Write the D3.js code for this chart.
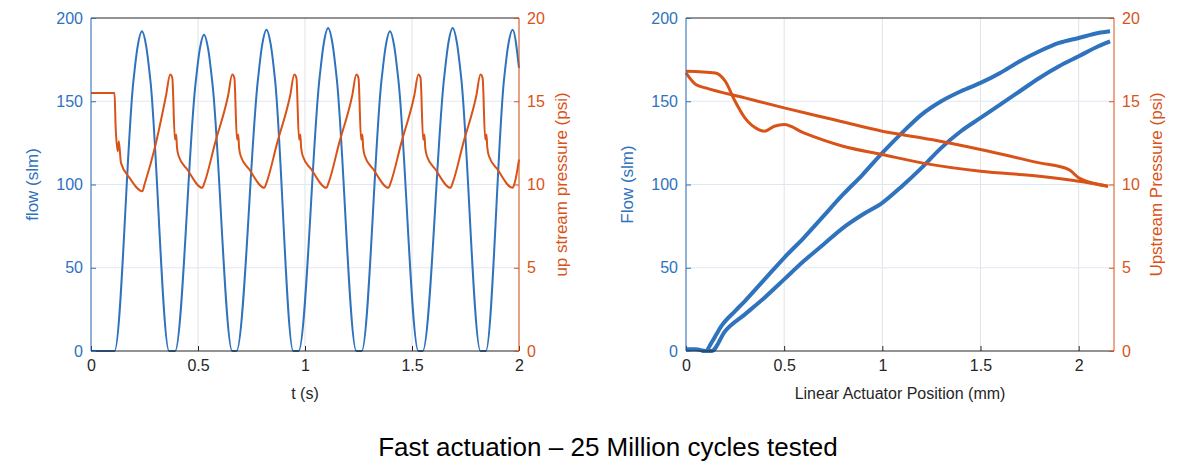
<!DOCTYPE html>
<html><head><meta charset="utf-8">
<script src="https://cdn.jsdelivr.net/npm/d3@7"></script>
<style>body{margin:0;background:#fff}text{font-family:"Liberation Sans",Arial,sans-serif}</style>
</head><body>
<script>
// left panel: flow vs time
const flowT = [0,0.11,0.198,0.218,0.238,0.258,0.278,0.365,0.393,0.488,0.508,0.528,0.548,0.568,0.66,0.68,0.78,0.80,0.82,0.84,0.86,0.945,0.97,1.068,1.088,1.108,1.128,1.148,1.24,1.265,1.357,1.377,1.397,1.417,1.437,1.53,1.55,1.65,1.67,1.69,1.71,1.73,1.82,1.845,1.93,1.95,1.97,2.0];
const flowV = [0,0,162,183,192,183,162,0,0,160,181,190,181,160,0,0,163,184,193,184,163,0,0,164,185,194,185,164,0,0,162,183,192,183,162,0,0,164,185,194,185,164,0,0,163,184,193,170];
// left panel: pressure vs time
const presT = [0,0.11,0.115,0.125,0.13,0.14,0.18,0.24,0.25,0.3,0.35,0.37,0.38,0.392,0.398,0.402,0.41,0.45,0.52,0.53,0.58,0.64,0.66,0.67,0.682,0.688,0.692,0.70,0.74,0.81,0.82,0.87,0.93,0.95,0.96,0.972,0.978,0.982,0.99,1.03,1.10,1.11,1.16,1.22,1.24,1.25,1.262,1.268,1.272,1.28,1.32,1.39,1.40,1.45,1.51,1.53,1.54,1.552,1.558,1.562,1.57,1.61,1.68,1.69,1.74,1.80,1.82,1.83,1.842,1.848,1.852,1.86,1.90,1.97,1.98,2.0];
const presV = [15.5,15.5,13.5,12.0,12.6,11.3,10.4,9.6,10.0,12.3,15.3,16.6,16.4,12.7,13.0,12.2,11.7,10.9,9.8,10.1,12.5,15.3,16.6,16.4,12.7,13.0,12.2,11.7,10.9,9.8,10.1,12.5,15.3,16.6,16.4,12.7,13.0,12.2,11.7,10.9,9.8,10.1,12.5,15.3,16.6,16.4,12.7,13.0,12.2,11.7,10.9,9.8,10.1,12.5,15.3,16.6,16.4,12.7,13.0,12.2,11.7,10.9,9.8,10.1,12.5,15.3,16.6,16.4,12.7,13.0,12.2,11.7,10.9,9.8,10.1,11.5];
// right panel: flow vs position (two branches)
const posUp = [0,0.05,0.1,0.13,0.18,0.25,0.3,0.4,0.5,0.6,0.7,0.8,0.9,1.0,1.1,1.2,1.3,1.4,1.5,1.6,1.7,1.8,1.9,2.0,2.1,2.16];
const flowUp = [1,1,0,5,15,24,30,43,56,68,81,94,106,119,131,142,150,156,161,167,174,180,185,188,191,192];
const posDn = [0.08,0.13,0.2,0.3,0.4,0.5,0.6,0.7,0.8,0.9,1.0,1.1,1.2,1.3,1.4,1.5,1.6,1.7,1.8,1.9,2.0,2.1,2.16];
const flowDn = [0,0,12,22,32,43,54,64,74,82,89,99,110,122,132,140,148,156,164,171,177,183,186];
// right panel: pressure vs position (two branches)
const posPa = [0,0.05,0.1,0.3,0.5,0.75,1.0,1.25,1.5,1.8,1.95,2.0,2.15];
const presPa = [16.7,16.0,15.8,15.2,14.6,13.9,13.2,12.7,12.1,11.3,10.9,10.4,9.9];
const posPb = [0,0.15,0.2,0.25,0.3,0.37,0.4,0.45,0.5,0.6,0.8,1.0,1.2,1.5,1.8,2.0,2.15];
const presPb = [16.8,16.7,16.2,15.0,14.0,13.3,13.2,13.5,13.6,13.1,12.3,11.8,11.3,10.8,10.5,10.2,9.9];

const BLUE = "#2f72bd", ORANGE = "#d95319";
const svg = d3.select("body").append("svg").attr("width",1190).attr("height",473);

function panel(x0, x1, xDom, xTicks, xLabel, yLabL, yLabR, blueSets, orangeSets) {
  const y0 = 18, y1 = 351;
  const x = d3.scaleLinear().domain(xDom).range([x0, x1]);
  const yl = d3.scaleLinear().domain([0,200]).range([y1, y0]);
  const yr = d3.scaleLinear().domain([0,20]).range([y1, y0]);
  const g = svg.append("g");
  // grid
  g.selectAll(".vg").data(xTicks).enter().append("line")
    .attr("x1",d=>x(d)).attr("x2",d=>x(d)).attr("y1",y0).attr("y2",y1)
    .attr("stroke","#e3e3e3");
  g.selectAll(".hg").data([50,100,150]).enter().append("line")
    .attr("x1",x0).attr("x2",x1).attr("y1",d=>yl(d)).attr("y2",d=>yl(d))
    .attr("stroke","#dde8f5");
  const line = (sx, sy) => d3.line().curve(d3.curveMonotoneX).x(d=>sx(d[0])).y(d=>sy(d[1]));
  blueSets.forEach(s => g.append("path").datum(d3.zip(s[0], s[1]))
    .attr("d", line(x, yl)).attr("fill","none").attr("stroke",BLUE).attr("stroke-width",s[2]||2));
  orangeSets.forEach(s => g.append("path").datum(d3.zip(s[0], s[1]))
    .attr("d", line(x, yr)).attr("fill","none").attr("stroke",ORANGE).attr("stroke-width",s[2]||2));
  // box and axes
  g.append("line").attr("x1",x0).attr("x2",x1).attr("y1",y0).attr("y2",y0).attr("stroke","#262626");
  const bx = g.append("g").attr("transform",`translate(0,${y1})`)
    .call(d3.axisBottom(x).tickValues(xTicks).tickSize(-5).tickPadding(9).tickFormat(d3.format("")));
  bx.selectAll("path,line").attr("stroke","#262626");
  bx.selectAll("text").attr("fill","#262626").style("font-size","16px");
  bx.select(".domain").attr("d",`M${x0},0H${x1}`);
  const al = g.append("g").attr("transform",`translate(${x0},0)`)
    .call(d3.axisLeft(yl).tickValues([0,50,100,150,200]).tickSize(-5).tickPadding(8));
  al.selectAll("path,line").attr("stroke",BLUE);
  al.selectAll("text").attr("fill",BLUE).style("font-size","16px");
  al.select(".domain").attr("d",`M0,${y0}V${y1}`);
  const ar = g.append("g").attr("transform",`translate(${x1},0)`)
    .call(d3.axisRight(yr).tickValues([0,5,10,15,20]).tickSize(-5).tickPadding(8));
  ar.selectAll("path,line").attr("stroke",ORANGE);
  ar.selectAll("text").attr("fill",ORANGE).style("font-size","16px");
  ar.select(".domain").attr("d",`M0,${y0}V${y1}`);
  g.append("text").attr("x",(x0+x1)/2).attr("y",399).attr("text-anchor","middle")
    .attr("fill","#262626").style("font-size","16px").text(xLabel);
  g.append("text").attr("transform",`translate(${x0-53},${(y0+y1)/2}) rotate(-90)`)
    .attr("text-anchor","middle").attr("fill",BLUE).style("font-size","17px").text(yLabL);
  g.append("text").attr("transform",`translate(${x1+48},${(y0+y1)/2}) rotate(-90)`)
    .attr("text-anchor","middle").attr("fill",ORANGE).style("font-size","17px").text(yLabR);
}

panel(91, 519, [0,2], [0,0.5,1,1.5,2], "t (s)", "flow (slm)", "up stream pressure (psi)",
  [[flowT, flowV]], [[presT, presV]]);
panel(686, 1114, [0,2.18], [0,0.5,1,1.5,2], "Linear Actuator Position (mm)", "Flow (slm)", "Upstream Pressure (psi)",
  [[posUp, flowUp, 4], [posDn, flowDn, 4]], [[posPa, presPa, 3], [posPb, presPb, 3]]);

svg.append("text").attr("x",608).attr("y",456).attr("text-anchor","middle")
  .style("font-size","26px").attr("fill","#000").text("Fast actuation – 25 Million cycles tested");
</script>
</body></html>
